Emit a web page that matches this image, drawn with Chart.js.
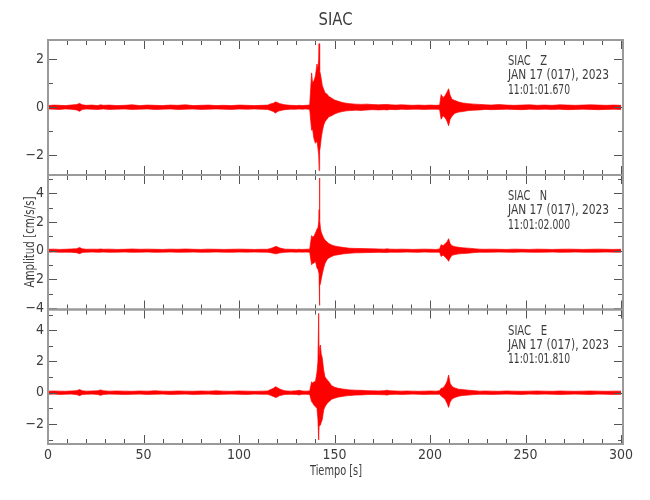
<!DOCTYPE html>
<html><head><meta charset="utf-8">
<script src="https://cdn.jsdelivr.net/npm/chart.js@4.4.0/dist/chart.umd.min.js"></script>
<style>
html,body{margin:0;padding:0;background:#fff;}
#wrap{position:relative;width:650px;height:500px;background:#fff;}
canvas{position:absolute;left:0;top:0;}
</style></head><body>
<div id="wrap">
<canvas id="c1" width="650" height="500"></canvas>
<canvas id="c2" width="650" height="500"></canvas>
<canvas id="c3" width="650" height="500"></canvas>
</div>
<script>
// ---------- DATA ----------
const title = 'SIAC';
const yTitle = 'Amplitud [cm/s/s]';
const xTitle = 'Tiempo [s]';
const xMajor = [0, 50, 100, 150, 200, 250, 300];
const xMinor = [10,20,30,40,60,70,80,90,110,120,130,140,160,170,180,190,210,220,230,240,260,270,280,290];

// time samples (s) of the envelope, shared by the three components
const times = [
  0,3,6,9,12,15,16.5,18,20,23,26,27.5,29,32,36,40,44,48,52,56,60,64,68,72,76,80,84,88,92,96,100,104,108,112,
  115,116.5,118,119,120,121,122.5,124,127,130,131.5,133,135,137,
  138,138.5,139.2,140,140.8,141.3,141.7,141.9,142.1,142.3,142.6,143,143.6,144.3,145,146,147,148.5,150,152,154,156,158,
  161,164,167,170,173,176,177.5,179,182,185,188,191,194,197,200,203,
  205,205.8,206.8,208,209,209.7,210.5,211.5,213,215,217,220,223,226,
  229,232,236,240,244,248,252,256,260,264,268,272,276,280,284,288,292,296,300
];

// Z component: upper / lower envelope (cm/s/s)
const upZ = [
  0.07,0.09,0.08,0.07,0.09,0.11,0.16,0.10,0.08,0.09,0.07,0.10,0.08,0.09,0.07,0.08,0.10,0.07,0.09,0.08,0.07,0.09,0.08,0.10,0.07,0.08,0.09,0.07,0.08,0.07,0.09,0.08,0.07,0.08,
  0.09,0.14,0.17,0.22,0.20,0.16,0.13,0.10,0.08,0.07,0.08,0.07,0.08,0.09,
  1.43,1.0,1.1,1.3,1.8,1.6,2.0,2.65,2.1,1.5,1.4,1.2,0.9,0.75,0.6,0.55,0.45,0.38,0.3,0.25,0.2,0.17,0.15,
  0.13,0.12,0.13,0.11,0.10,0.11,0.12,0.10,0.09,0.10,0.09,0.08,0.09,0.08,0.09,0.08,
  0.09,0.53,0.40,0.50,0.65,0.77,0.50,0.33,0.28,0.22,0.18,0.15,0.13,0.12,
  0.10,0.09,0.11,0.09,0.08,0.09,0.10,0.08,0.09,0.08,0.10,0.09,0.08,0.09,0.10,0.09,0.08,0.09,0.08
];
const loZ = [
  -0.07,-0.08,-0.09,-0.07,-0.08,-0.11,-0.17,-0.09,-0.07,-0.08,-0.09,-0.08,-0.07,-0.09,-0.08,-0.07,-0.09,-0.08,-0.07,-0.09,-0.08,-0.07,-0.09,-0.08,-0.07,-0.09,-0.08,-0.07,-0.08,-0.09,-0.07,-0.08,-0.07,-0.08,
  -0.09,-0.13,-0.18,-0.24,-0.19,-0.15,-0.12,-0.10,-0.08,-0.08,-0.07,-0.08,-0.07,-0.09,
  -0.96,-0.9,-1.3,-1.5,-1.4,-1.7,-2.0,-2.64,-2.1,-1.8,-1.6,-1.3,-1.0,-0.75,-0.6,-0.5,-0.4,-0.35,-0.28,-0.22,-0.18,-0.15,-0.14,
  -0.12,-0.13,-0.11,-0.10,-0.11,-0.10,-0.11,-0.09,-0.10,-0.08,-0.09,-0.08,-0.08,-0.09,-0.08,-0.08,
  -0.09,-0.50,-0.35,-0.45,-0.60,-0.77,-0.50,-0.37,-0.25,-0.20,-0.18,-0.14,-0.12,-0.11,
  -0.09,-0.10,-0.09,-0.08,-0.09,-0.10,-0.08,-0.09,-0.08,-0.09,-0.08,-0.10,-0.09,-0.08,-0.09,-0.10,-0.09,-0.08,-0.09
];

// N component
const upN = [
  0.10,0.11,0.09,0.10,0.12,0.14,0.22,0.13,0.10,0.11,0.10,0.12,0.10,0.11,0.09,0.10,0.12,0.10,0.11,0.10,0.09,0.11,0.10,0.12,0.10,0.09,0.11,0.10,0.09,0.10,0.11,0.10,0.09,0.10,
  0.10,0.16,0.22,0.30,0.27,0.20,0.15,0.11,0.10,0.09,0.10,0.09,0.10,0.11,
  1.05,0.95,1.0,1.23,1.5,1.6,2.0,2.86,5.07,2.2,1.58,1.3,1.1,0.88,0.75,0.62,0.5,0.4,0.33,0.28,0.24,0.2,0.17,
  0.16,0.15,0.14,0.13,0.12,0.11,0.13,0.11,0.10,0.11,0.10,0.09,0.10,0.11,0.10,0.09,
  0.12,0.42,0.35,0.50,0.65,0.84,0.50,0.35,0.28,0.24,0.20,0.18,0.14,0.11,
  0.10,0.11,0.10,0.09,0.11,0.10,0.09,0.11,0.10,0.09,0.10,0.11,0.10,0.09,0.10,0.11,0.10,0.09,0.10
];
const loN = [
  -0.10,-0.09,-0.11,-0.10,-0.11,-0.14,-0.21,-0.12,-0.10,-0.09,-0.11,-0.10,-0.09,-0.11,-0.10,-0.09,-0.11,-0.10,-0.09,-0.11,-0.10,-0.09,-0.11,-0.10,-0.09,-0.11,-0.10,-0.09,-0.10,-0.11,-0.09,-0.10,-0.09,-0.10,
  -0.10,-0.14,-0.18,-0.22,-0.20,-0.16,-0.13,-0.11,-0.09,-0.10,-0.09,-0.10,-0.09,-0.11,
  -0.98,-0.9,-0.86,-0.74,-1.2,-1.3,-1.5,-1.67,-3.81,-2.4,-2.3,-2.0,-1.6,-1.2,-0.9,-0.63,-0.5,-0.4,-0.32,-0.28,-0.23,-0.2,-0.17,
  -0.15,-0.14,-0.13,-0.12,-0.11,-0.12,-0.12,-0.10,-0.11,-0.10,-0.09,-0.10,-0.11,-0.09,-0.10,-0.10,
  -0.10,-0.40,-0.30,-0.45,-0.60,-0.74,-0.50,-0.32,-0.27,-0.22,-0.20,-0.17,-0.13,-0.10,
  -0.11,-0.10,-0.09,-0.10,-0.11,-0.09,-0.10,-0.11,-0.10,-0.09,-0.11,-0.10,-0.09,-0.10,-0.11,-0.10,-0.09,-0.10,-0.10
];

// E component
const upE = [
  0.10,0.11,0.10,0.09,0.11,0.13,0.20,0.12,0.10,0.11,0.12,0.18,0.12,0.10,0.11,0.10,0.09,0.11,0.10,0.12,0.10,0.09,0.11,0.10,0.09,0.11,0.10,0.12,0.10,0.09,0.11,0.10,0.09,0.10,
  0.11,0.20,0.28,0.38,0.33,0.25,0.18,0.12,0.10,0.12,0.15,0.11,0.10,0.11,
  0.70,0.60,0.70,0.72,1.30,2.00,5.07,2.40,2.60,2.90,3.05,2.50,2.20,1.45,1.00,0.85,0.70,0.45,0.35,0.28,0.24,0.21,0.18,
  0.16,0.15,0.13,0.12,0.11,0.13,0.16,0.12,0.11,0.10,0.11,0.10,0.09,0.10,0.11,0.10,
  0.12,0.28,0.30,0.50,0.75,1.13,0.60,0.40,0.30,0.22,0.20,0.16,0.13,0.10,
  0.11,0.10,0.09,0.11,0.10,0.09,0.10,0.11,0.10,0.09,0.11,0.10,0.09,0.10,0.11,0.10,0.09,0.10,0.10
];
const loE = [
  -0.10,-0.09,-0.11,-0.10,-0.09,-0.12,-0.19,-0.11,-0.10,-0.09,-0.11,-0.17,-0.11,-0.09,-0.10,-0.11,-0.10,-0.09,-0.11,-0.10,-0.09,-0.11,-0.10,-0.09,-0.11,-0.10,-0.09,-0.11,-0.10,-0.09,-0.10,-0.11,-0.09,-0.10,
  -0.10,-0.17,-0.24,-0.30,-0.28,-0.20,-0.15,-0.11,-0.10,-0.11,-0.14,-0.10,-0.10,-0.11,
  -0.58,-0.65,-0.79,-0.90,-1.00,-1.70,-3.02,-2.00,-1.90,-2.10,-2.07,-1.90,-1.70,-1.10,-0.90,-0.70,-0.58,-0.42,-0.35,-0.28,-0.24,-0.20,-0.18,
  -0.15,-0.14,-0.12,-0.11,-0.12,-0.13,-0.15,-0.11,-0.10,-0.11,-0.10,-0.09,-0.10,-0.11,-0.10,-0.10,
  -0.10,-0.21,-0.30,-0.45,-0.70,-0.94,-0.60,-0.40,-0.30,-0.22,-0.18,-0.15,-0.12,-0.10,
  -0.10,-0.11,-0.10,-0.09,-0.10,-0.11,-0.09,-0.10,-0.09,-0.10,-0.11,-0.10,-0.09,-0.10,-0.11,-0.09,-0.10,-0.11,-0.10
];

// y tick labels / minor ticks per panel
const yMajorZ = [-2, 0, 2],          yMinorZ = [-1, 1];
const yMajorN = [-4, -2, 0, 2, 4],   yMinorN = [-3, -1, 1, 3, 5];
const yMajorE = [-2, 0, 2, 4],       yMinorE = [-3, -1, 1, 3, 5];

const infoZ = ['SIAC   Z', 'JAN 17 (017), 2023', '11:01:01.670'];
const infoN = ['SIAC   N', 'JAN 17 (017), 2023', '11:01:02.000'];
const infoE = ['SIAC   E', 'JAN 17 (017), 2023', '11:01:01.810'];

// ---------- DRAWING ----------
const FONT = "'Liberation Sans Narrow','DejaVu Sans Condensed','Liberation Sans',Arial,sans-serif";
const TXT = '#3c3c3c';

function drawScaledText(ctx, s, x, y, w, size, align, rot) {
  ctx.save();
  ctx.font = size + 'px ' + FONT;
  ctx.fillStyle = TXT;
  ctx.textBaseline = 'middle';
  ctx.textAlign = align;
  const m = ctx.measureText(s).width;
  ctx.translate(x, y);
  if (rot) ctx.rotate(-Math.PI / 2);
  ctx.scale(w / m, 1);
  ctx.fillText(s, 0, 0);
  ctx.restore();
}

const framePlugin = {
  id: 'frame',
  afterDatasetsDraw(chart) {
    const o = chart.options.plugins.frame;
    const { ctx, chartArea: a } = chart;
    const xs = chart.scales.x, ys = chart.scales.y;
    ctx.save();
    ctx.strokeStyle = '#555';
    ctx.lineWidth = 1;
    ctx.beginPath();
    const xt = (vals, len) => vals.forEach(v => {
      const px = Math.round(xs.getPixelForValue(v)) + 0.5;
      ctx.moveTo(px, a.top); ctx.lineTo(px, a.top + len);
      ctx.moveTo(px, a.bottom); ctx.lineTo(px, a.bottom - len);
    });
    const yt = (vals, len) => vals.forEach(v => {
      const py = Math.round(ys.getPixelForValue(v)) + 0.5;
      ctx.moveTo(a.left, py); ctx.lineTo(a.left + len, py);
      ctx.moveTo(a.right, py); ctx.lineTo(a.right - len, py);
    });
    xt(xMajor, 9); xt(xMinor, 5);
    yt(o.major, 9); yt(o.minor, 5);
    ctx.stroke();
    ctx.strokeStyle = '#9a9a9a';
    ctx.lineWidth = 2;
    ctx.strokeRect(a.left, a.top, a.right - a.left, a.bottom - a.top);
    // station info
    const lx = 508;
    drawScaledText(ctx, o.info[0], lx, a.top + 21.5, 39, 14, 'left');
    drawScaledText(ctx, o.info[1], lx, a.top + 35.5, 101, 14, 'left');
    drawScaledText(ctx, o.info[2], lx, a.top + 50, 62, 14, 'left');
    if (o.title) drawScaledText(ctx, title, 335.5, 20, 34, 18, 'center');
    if (o.xTitle) drawScaledText(ctx, xTitle, 336, 471, 52, 14, 'center');
    if (o.yTitle) drawScaledText(ctx, yTitle, 30, 242, 91, 14, 'center', true);
    ctx.restore();
  }
};

function panel(id, up, lo, cfg) {
  const showX = !!cfg.showX;
  const toPts = arr => times.map((t, i) => ({ x: t, y: arr[i] }));
  const bottomPad = showX ? 500 - cfg.bottom - 30 : 500 - cfg.bottom;
  return new Chart(document.getElementById(id), {
    type: 'line',
    data: {
      datasets: [
        { data: toPts(up), borderColor: '#ff0000', backgroundColor: '#ff0000', borderWidth: 0.7, pointRadius: 0, fill: '+1', tension: 0 },
        { data: toPts(lo), borderColor: '#ff0000', backgroundColor: '#ff0000', borderWidth: 0.7, pointRadius: 0, fill: false, tension: 0 }
      ]
    },
    options: {
      responsive: false,
      animation: false,
      events: [],
      layout: { padding: { top: cfg.top, bottom: bottomPad, left: 0, right: 27 } },
      plugins: {
        legend: { display: false },
        tooltip: { enabled: false },
        frame: { major: cfg.major, minor: cfg.minor, info: cfg.info, title: !!cfg.title, xTitle: showX, yTitle: !!cfg.yTitle }
      },
      scales: {
        x: {
          type: 'linear', min: 0, max: 301,
          display: showX,
          grid: { display: false, drawTicks: false },
          border: { display: false },
          afterBuildTicks: s => { s.ticks = xMajor.map(v => ({ value: v })); },
          afterFit: s => { s.height = showX ? 30 : 0; },
          ticks: { color: TXT, font: { family: FONT, size: 14 }, padding: 3, maxRotation: 0, autoSkip: false }
        },
        y: {
          type: 'linear', min: cfg.min, max: cfg.max,
          grid: { display: false, drawTicks: false },
          border: { display: false },
          afterBuildTicks: s => { s.ticks = cfg.major.map(v => ({ value: v })); },
          afterFit: s => { s.width = 48; },
          ticks: { color: TXT, font: { family: FONT, size: 14 }, padding: 4,
                   callback: v => (v < 0 ? '\u2212' + Math.abs(v) : String(v)) }
        }
      }
    },
    plugins: [framePlugin]
  });
}

panel('c1', upZ, loZ, { top: 40, bottom: 175, min: -2.82, max: 2.80, major: yMajorZ, minor: yMinorZ, info: infoZ, title: true });
panel('c2', upN, loN, { top: 175, bottom: 309.5, min: -4.10, max: 5.28, major: yMajorN, minor: yMinorN, info: infoN, yTitle: true });
panel('c3', upE, loE, { top: 309.5, bottom: 444, min: -3.28, max: 5.32, major: yMajorE, minor: yMinorE, info: infoE, showX: true });
</script>
</body></html>
